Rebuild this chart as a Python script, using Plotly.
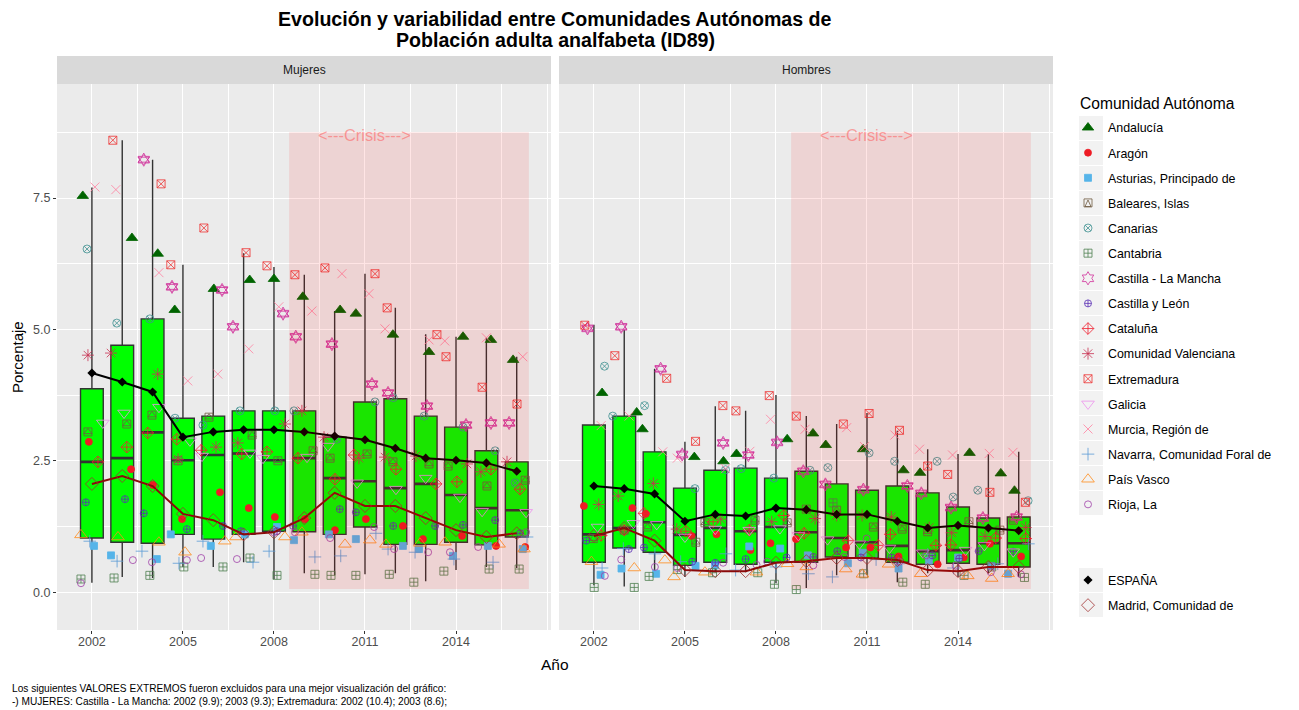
import plotly.graph_objects as go

YEARS = list(range(2002, 2017))
TICK_YEARS = [2002, 2005, 2008, 2011, 2014]
MINOR_YEARS = [2003.5, 2006.5, 2009.5, 2012.5, 2015.5, 2017]
TICK_PCT = [0, 2.5, 5, 7.5]
TICK_PCT_LABELS = ["0.0", "2.5", "5.0", "7.5"]
MINOR_PCT = [1.25, 3.75, 6.25, 8.75]

# Cajas (mujeres)
M_Q1 = [1.03, 0.95, 0.93, 1.10, 1.01, 1.10, 1.16, 1.15, 1.10, 1.24, 0.91, 0.91, 0.95, 0.90, 1.05]
M_MED = [2.48, 2.55, 3.04, 2.51, 2.61, 2.64, 2.51, 2.55, 2.17, 2.11, 1.98, 2.06, 1.85, 1.60, 1.56]
M_Q3 = [3.87, 4.70, 5.20, 3.31, 3.35, 3.45, 3.45, 3.45, 2.95, 3.62, 3.68, 3.35, 3.14, 2.69, 2.48]
M_LOW = [0.18, 0.29, 0.27, 0.48, 0.48, 0.57, 0.25, 0.36, 0.32, 0.34, 0.36, 0.21, 0.42, 0.48, 0.46]
M_HIGH = [7.70, 8.60, 8.23, 6.23, 5.75, 6.45, 6.19, 6.04, 5.35, 6.06, 5.41, 4.91, 4.86, 4.84, 4.48]

# Cajas (hombres)
H_Q1 = [0.57, 0.84, 0.76, 0.51, 0.57, 0.53, 0.57, 0.57, 0.67, 0.65, 0.57, 0.53, 0.55, 0.53, 0.48]
H_MED = [1.10, 1.22, 1.33, 1.09, 1.22, 1.16, 1.24, 1.14, 1.03, 0.95, 0.88, 0.78, 0.80, 0.93, 0.93]
H_Q3 = [3.18, 3.35, 2.67, 1.98, 2.32, 2.36, 2.17, 2.30, 2.06, 1.94, 2.02, 1.89, 1.62, 1.41, 1.43]
H_LOW = [0.13, 0.11, 0.29, 0.29, 0.38, 0.38, 0.17, 0.08, 0.32, 0.32, 0.19, 0.36, 0.29, 0.36, 0.29]
H_HIGH = [5.09, 4.99, 4.25, 2.86, 3.54, 3.45, 3.75, 3.35, 3.20, 3.41, 3.07, 2.72, 2.63, 2.63, 2.67]

# Lineas
ESP_M = [4.17, 4.00, 3.81, 2.95, 3.05, 3.09, 3.09, 3.05, 2.97, 2.90, 2.74, 2.55, 2.51, 2.46, 2.30]
ESP_H = [2.02, 1.97, 1.87, 1.35, 1.48, 1.45, 1.60, 1.57, 1.48, 1.48, 1.35, 1.22, 1.27, 1.22, 1.17]
MAD_M = [2.06, 2.21, 2.02, 1.49, 1.37, 1.10, 1.14, 1.41, 1.89, 1.64, 1.64, 1.41, 1.18, 1.05, 1.12]
MAD_H = [1.07, 1.22, 0.98, 0.42, 0.40, 0.40, 0.56, 0.59, 0.65, 0.65, 0.61, 0.42, 0.40, 0.48, 0.48]

# Puntos: valor y desplazamiento horizontal (jitter) por comunidad
AND_M = [7.54, 6.74, 6.44, 5.37, 5.77, 5.94, 5.96, 5.62, 5.37, 5.30, 4.90, 4.57, 4.86, 4.80, 4.42]
AND_MJ = [-.3, .32, .17, -.27, .02, .2, 0, -.05, .18, -.3, -.08, .11, .23, .15, -.12]
AND_H = [3.79, 3.42, 3.10, 2.57, 2.49, 2.63, 2.91, 3.02, 2.80, 2.72, 2.32, 2.27, 2.65, 2.26, 1.93]
AND_HJ = [.27, .41, -.4, .31, .27, -.3, .37, .22, -.36, -.13, .2, -.25, .38, .41, -.14]

ARA_M = [2.86, 2.34, 2.04, 1.39, 1.90, 1.60, 1.43, 1.39, 1.18, 1.39, 1.26, 1.01, 1.07, 0.88, 0.86]
ARA_MJ = [-.1, .29, .01, -.03, .22, .17, .03, .02, .01, .03, .25, -.09, .2, .32, .28]
ARA_H = [1.64, 1.60, 1.49, 1.07, 1.10, 0.80, 0.93, 1.01, 0.85, 0.85, 0.68, 0.53, 0.66, 0.92, 0.68]
ARA_HJ = [-.33, .27, -.29, .22, .04, .16, -.18, -.34, .31, .11, .04, .33, .19, .05, .08]

AST_M = [0.88, 0.70, 0.63, 1.10, 0.88, 1.10, 1.24, 0.99, 1.10, 1.01, 0.88, 0.82, 0.69, 0.88, 0.82]
AST_MJ = [.07, -.37, .14, -.4, -.08, .04, .1, -.34, -.19, -.3, .25, -.22, -.1, .05, .2]
AST_H = [0.33, 0.45, 0.35, 0.50, 0.51, 0.87, 0.83, 0.70, 0.55, 0.75, 0.45, 0.60, 0.66, 0.50, 0.35]
AST_HJ = [.22, -.09, .05, .35, -.01, .12, .14, .05, .37, -.14, .04, .04, 0, .1, -.35]

BAL_M = [3.05, 3.20, 3.37, 2.50, 3.33, 2.99, 2.50, 2.69, 2.55, 2.63, 2.48, 2.44, 2.40, 2.02, 2.13]
BAL_MJ = [-.13, .15, -.02, -.16, -.14, .28, .13, .29, -.15, .07, -.08, .11, -.26, .02, .28]
BAL_H = [1.02, 1.18, 1.24, 0.95, 1.32, 1.37, 1.32, 1.58, 1.56, 1.24, 1.20, 1.15, 1.34, 1.18, 1.37]
BAL_HJ = [-.02, 0, -.23, .36, -.34, .31, .37, 0, 0, .21, .16, 0, .36, .38, -.18]

CAN_M = [6.53, 5.12, 5.20, 3.31, 3.18, 3.45, 3.45, 3.45, 2.91, 3.62, 3.70, 3.35, 3.14, 2.69, 2.08]
CAN_MJ = [-.16, -.18, -.09, -.26, -.34, -.12, .03, -.34, .07, .33, -.07, -.05, .23, .29, -.05]
CAN_H = [4.30, 3.35, 3.55, 1.97, 2.33, 2.35, 2.17, 2.32, 2.37, 2.65, 2.49, 2.49, 1.81, 1.94, 1.74]
CAN_HJ = [.35, -.38, -.33, .33, .34, -.15, -.07, .12, -.29, .07, -.09, .31, -.16, -.35, .31]

CTB_M = [0.25, 0.27, 0.32, 0.48, 0.48, 0.65, 0.32, 0.34, 0.32, 0.32, 0.34, 0.19, 0.40, 0.44, 0.44]
CTB_MJ = [-.36, -.27, -.09, .03, .32, .21, .1, .35, -.12, -.3, -.2, -.39, -.4, .09, .08]
CTB_H = [0.09, 0.09, 0.30, 0.43, 0.37, 0.37, 0.15, 0.05, 1.70, 0.35, 0.19, 0.15, 0.32, 0.48, 0.28]
CTB_HJ = [.01, .33, -.18, -.25, -.09, .4, -.05, -.33, -.12, -.11, .18, -.08, .2, .11, .19]

CLM_M = [None, None, 8.23, 5.81, 5.75, 5.05, 5.30, 4.86, 4.72, 3.96, 3.79, 3.54, 3.18, 3.22, 3.22]
CLM_MJ = [0, 0, -.29, -.36, .29, -.35, .3, -.28, -.09, .23, -.24, .04, .33, .15, -.25]
CLM_H = [5.02, 5.05, 4.25, 2.62, 2.84, 2.61, 2.85, 2.30, 2.05, 1.95, 2.02, 1.88, 1.61, 1.41, 1.43]
CLM_HJ = [-.21, -.1, .2, -.09, .26, .09, .04, -.1, -.37, -.12, .33, -.21, -.23, -.18, -.07]

CYL_M = [1.71, 1.77, 1.50, 1.20, 1.26, 1.16, 1.16, 1.26, 1.58, 1.52, 1.26, 1.26, 1.28, 1.37, 1.12]
CYL_MJ = [-.2, .09, -.29, .13, .32, -.09, .1, -.37, .17, -.3, -.07, .31, .23, .29, .11]
CYL_H = [0.98, 0.82, 0.85, 0.58, 0.56, 0.63, 0.66, 0.67, 0.78, 0.66, 0.66, 0.70, 0.64, 0.78, 0.77]
CYL_HJ = [-.25, .15, -.35, .24, 0, 0, .35, .23, .02, -.2, -.19, .15, .04, -.32, -.18]

CAT_M = [2.48, 2.76, 3.03, 2.91, 2.70, 2.63, 2.67, 2.55, 2.15, 2.61, 2.34, 2.06, 2.10, 2.34, 1.96]
CAT_MJ = [.2, .15, -.16, -.2, -.4, -.06, -.23, -.21, .01, -.36, .02, .34, .03, .15, .11]
CAT_H = [1.08, 1.18, 1.50, 1.16, 1.34, 1.18, 1.46, 1.12, 0.98, 0.89, 1.10, 0.89, 0.90, 1.03, 1.02]
CAT_HJ = [.24, 0, -.35, .03, -.07, .12, .26, -.07, .38, .37, -.23, .27, -.24, .24, .23]

VAL_M = [4.51, 4.55, 4.15, 2.53, 2.76, 2.84, 3.20, 3.45, 2.95, 2.55, 2.57, 2.59, 2.44, 2.29, 2.48]
VAL_MJ = [-.13, -.37, .17, -.16, .09, -.19, .36, -.08, -.35, -.2, -.34, -.32, .36, -.18, -.32]
VAL_H = [1.67, 1.83, 2.07, 1.20, 1.39, 1.18, 1.34, 1.40, 1.46, 1.46, 1.43, 1.23, 1.13, 1.06, 1.23]
VAL_HJ = [.16, -.2, -.04, -.27, .18, .14, -.14, .29, 0, -.16, -.2, .05, -.21, -.11, .23]

EXT_M = [None, 8.60, 7.77, 6.23, 6.93, 6.46, 6.21, 6.04, 6.17, 6.06, 5.41, 4.90, 4.48, 3.90, 3.58]
EXT_MJ = [0, -.31, .28, -.4, -.31, .08, -.23, -.31, -.32, .33, -.27, .37, -.33, -.14, .01]
EXT_H = [5.08, 4.50, 4.07, 2.87, 3.55, 3.45, 3.74, 3.35, 3.20, 3.40, 3.08, 2.40, 2.24, 1.90, 1.71]
EXT_HJ = [-.3, -.31, .4, .35, .25, -.32, -.22, -.33, .22, .07, .07, 0, -.34, .05, .22]

GAL_M = [3.22, 3.41, 3.52, 2.88, 2.59, 2.65, 2.55, 2.57, 2.78, 2.08, 1.96, 2.17, 1.81, 1.54, 1.52]
GAL_MJ = [.36, .06, .21, .23, -.37, .21, -.36, .09, -.22, -.26, .02, 0, .13, -.14, .31]
GAL_H = [1.24, 1.31, 1.29, 1.05, 1.20, 1.18, 1.21, 1.08, 1.00, 0.92, 0.84, 0.75, 0.80, 0.89, 0.77]
GAL_HJ = [.12, .3, .07, 0, 0, .12, .13, -.26, -.3, -.25, -.26, -.16, .25, -.13, -.18]

MUR_M = [7.71, 7.66, 6.08, 4.02, 4.15, 4.63, 5.43, 5.35, 6.06, 5.68, 5.01, 4.80, 4.78, 4.84, 4.48]
MUR_MJ = [.1, -.21, .21, .16, .15, .17, .16, .25, .24, .13, -.34, .11, -.37, 0, .2]
MUR_H = [3.17, 3.35, 2.67, 2.55, 2.35, 2.68, 3.29, 3.10, 3.13, 2.77, 2.99, 2.72, 2.61, 2.64, 2.66]
MUR_HJ = [.24, .16, .27, -.25, .34, .14, -.18, -.04, .33, -.08, -.08, -.27, -.18, .03, -.19]

NAV_M = [0.97, 0.59, 0.78, 0.55, 0.97, 0.57, 0.78, 0.67, 0.69, 1.12, 0.82, 0.76, 0.63, 0.57, 1.05]
NAV_MJ = [-.07, -.17, -.35, -.13, -.34, .31, -.16, .35, .2, .36, -.24, -.35, -.07, .22, .34]
NAV_H = [0.46, 0.83, 0.73, 0.58, 0.73, 0.42, 0.48, 0.35, 0.29, 0.62, 0.54, 0.72, 0.46, 0.54, 0.92]
NAV_HJ = [.27, -.03, .01, -.14, .35, -.33, 0, .07, -.14, .3, .03, 0, -.15, .31, .32]

PVA_M = [1.09, 1.05, 0.95, 0.76, 0.97, 1.05, 1.05, 1.14, 0.91, 0.99, 0.91, 0.93, 0.95, 0.91, 0.82]
PVA_MJ = [-.36, -.14, .21, .07, .38, -.25, .36, -.08, .34, .16, -.31, -.19, -.36, .42, .24]
PVA_H = [0.58, 0.46, 0.61, 0.29, 0.38, 0.38, 0.54, 0.48, 0.44, 0.34, 0.53, 0.35, 0.31, 0.26, 0.35]
PVA_HJ = [-.08, .33, .34, -.36, -.34, .36, .38, 0, .3, -.15, -.29, -.23, .32, .11, -.35]

RIO_M = [0.17, 0.61, 0.57, 0.61, 0.65, 0.63, 1.14, 1.14, 1.03, 1.24, 0.82, 0.76, 0.76, 0.86, 1.14]
RIO_MJ = [-.36, .35, -.02, .13, -.4, -.22, 0, -.31, -.15, .3, -.04, .08, -.2, -.27, .31]
RIO_H = [0.31, 0.62, 0.48, 0.46, 0.56, 0.52, 0.58, 0.51, 0.67, 1.02, 0.58, 0.70, 0.50, 0.38, 0.34]
RIO_HJ = [.36, -.1, .01, -.25, .26, .36, -.29, .23, .26, -.01, .07, -.05, -.08, .08, .07]

# Comunidad, datos mujeres, datos hombres, simbolo, color, tamaño
REGIONS = [
    ("Andalucía", AND_M, AND_MJ, AND_H, AND_HJ, "triangle-up", "#006400", 10),
    ("Aragón", ARA_M, ARA_MJ, ARA_H, ARA_HJ, "circle", "#EE1C25", 7),
    ("Asturias, Principado de", AST_M, AST_MJ, AST_H, AST_HJ, "square", "#56B4E9", 7),
    ("Baleares, Islas", BAL_M, BAL_MJ, BAL_H, BAL_HJ, "square-open", "#6E5A40", 8),
    ("Canarias", CAN_M, CAN_MJ, CAN_H, CAN_HJ, "circle-x-open", "#3F9090", 8),
    ("Cantabria", CTB_M, CTB_MJ, CTB_H, CTB_HJ, "square-cross-open", "#4F8050", 8),
    ("Castilla - La Mancha", CLM_M, CLM_MJ, CLM_H, CLM_HJ, "hexagram-open", "#D0309A", 10),
    ("Castilla y León", CYL_M, CYL_MJ, CYL_H, CYL_HJ, "circle-cross-open", "#5B2FB5", 7),
    ("Cataluña", CAT_M, CAT_MJ, CAT_H, CAT_HJ, "diamond-cross-open", "#F02030", 9),
    ("Comunidad Valenciana", VAL_M, VAL_MJ, VAL_H, VAL_HJ, "asterisk-open", "#C83050", 10),
    ("Extremadura", EXT_M, EXT_MJ, EXT_H, EXT_HJ, "square-x-open", "#EE3333", 8),
    ("Galicia", GAL_M, GAL_MJ, GAL_H, GAL_HJ, "triangle-down-open", "#EE90EE", 11),
    ("Murcia, Región de", MUR_M, MUR_MJ, MUR_H, MUR_HJ, "x-thin-open", "#FF80A0", 9),
    ("Navarra, Comunidad Foral de", NAV_M, NAV_MJ, NAV_H, NAV_HJ, "cross-thin-open", "#5B9BD5", 9),
    ("País Vasco", PVA_M, PVA_MJ, PVA_H, PVA_HJ, "triangle-up-open", "#FF8C1A", 11),
    ("Rioja, La", RIO_M, RIO_MJ, RIO_H, RIO_HJ, "circle-open", "#A040A8", 7),
]

TITLE_1 = "Evolución y variabilidad entre Comunidades Autónomas de"
TITLE_2 = "Población adulta analfabeta (ID89)"
NOTE = ("Los siguientes VALORES EXTREMOS fueron excluidos para una mejor visualización del gráfico:<br>"
        "-) MUJERES: Castilla - La Mancha: 2002 (9.9); 2003 (9.3); Extremadura: 2002 (10.4); 2003 (8.6);")

# la pagina deja 8px de margen en el body
W, H = 1283, 702


def px(x):
    return (x - 8) / W


def py(y):
    return 1 - (y - 8) / H


FONT = "Liberation Sans, Arial, sans-serif"
fig = go.Figure()

for col, (q1, med, q3, low, high) in enumerate([(M_Q1, M_MED, M_Q3, M_LOW, M_HIGH),
                                                (H_Q1, H_MED, H_Q3, H_LOW, H_HIGH)]):
    ax = dict(xaxis="x" if col == 0 else "x2", yaxis="y" if col == 0 else "y2")
    fig.add_trace(go.Box(x=YEARS, q1=q1, median=med, q3=q3, lowerfence=low, upperfence=high,
                         width=0.75, whiskerwidth=0, fillcolor="#00FF00",
                         line=dict(color="#333333", width=1.4), showlegend=False, hoverinfo="skip", **ax))
    # mediana mas gruesa
    fig.add_trace(go.Box(x=YEARS, q1=med, median=med, q3=med, lowerfence=med, upperfence=med,
                         width=0.75, whiskerwidth=0, fillcolor="#333333",
                         line=dict(color="#333333", width=2.6), showlegend=False, hoverinfo="skip", **ax))

for name, vm, jm, vh, jh, symbol, color, size in REGIONS:
    is_clm = name.startswith("Castilla - La")
    for col, (vals, jit) in enumerate([(vm, jm), (vh, jh)]):
        xs = [yr + j for yr, j in zip(YEARS, jit)]
        ax = dict(xaxis="x" if col == 0 else "x2", yaxis="y" if col == 0 else "y2")
        fig.add_trace(go.Scatter(x=xs, y=vals, mode="markers", name=name, legendgroup=name,
                                 showlegend=col == 0, legend="legend",
                                 marker=dict(symbol=symbol, color=color, size=size,
                                             line=dict(color=color, width=0.8)), **ax))
        # Baleares lleva un triangulo dentro del cuadrado
        if name.startswith("Baleares"):
            fig.add_trace(go.Scatter(x=xs, y=vals, mode="markers", legendgroup=name, showlegend=False,
                                     hoverinfo="skip",
                                     marker=dict(symbol="triangle-up-open", color=color, size=7,
                                                 line=dict(color=color, width=0.8)), **ax))
        if is_clm:
            for tri in ["triangle-up-open", "triangle-down-open"]:
                fig.add_trace(go.Scatter(x=xs, y=vals, mode="markers", legendgroup=name, showlegend=False,
                                         hoverinfo="skip",
                                         marker=dict(symbol=tri, color=color, size=10,
                                                     line=dict(color=color, width=0.8)), **ax))

for col, (esp, mad) in enumerate([(ESP_M, MAD_M), (ESP_H, MAD_H)]):
    ax = dict(xaxis="x" if col == 0 else "x2", yaxis="y" if col == 0 else "y2")
    fig.add_trace(go.Scatter(x=YEARS, y=esp, mode="lines", line=dict(color="black", width=2),
                             legendgroup="ESPAÑA", showlegend=False, hoverinfo="skip", **ax))
    fig.add_trace(go.Scatter(x=YEARS, y=esp, mode="markers", name="ESPAÑA", legendgroup="ESPAÑA",
                             legend="legend2", showlegend=col == 0,
                             marker=dict(symbol="diamond", color="black", size=7), **ax))
    fig.add_trace(go.Scatter(x=YEARS, y=mad, mode="lines", line=dict(color="#8B0A0A", width=2),
                             legendgroup="Madrid", showlegend=False, hoverinfo="skip", **ax))
    fig.add_trace(go.Scatter(x=YEARS, y=mad, mode="markers", name="Madrid, Comunidad de", legendgroup="Madrid",
                             legend="legend2", showlegend=col == 0,
                             marker=dict(symbol="diamond-open", color="#A03030", size=10,
                                         line=dict(color="#A03030", width=0.8)), **ax))

# zona de crisis, por encima de las cajas
for xref, yref in [("x", "y"), ("x2", "y2")]:
    fig.add_shape(type="rect", x0=2008.5, x1=2016.4, y0=0.06, y1=8.75, xref=xref, yref=yref,
                  fillcolor="rgba(255,0,0,0.1)", line_width=0, layer="above")
    fig.add_annotation(x=2011, y=8.7, xref=xref, yref=yref, text="&lt;---Crisis---&gt;", showarrow=False,
                       font=dict(size=16.4, color="rgba(255,90,90,0.55)", family=FONT))


def label(x, y, text, size, color="black", **kw):
    opts = dict(xanchor="center", yanchor="middle")
    opts.update(kw)
    fig.add_annotation(x=px(x), y=py(y), xref="paper", yref="paper", text=text, showarrow=False,
                       font=dict(size=size, color=color, family=FONT, weight=opts.pop("weight", "normal")), **opts)


# cabeceras de panel
for x0, x1, strip in [(57, 551, "Mujeres"), (559, 1053, "Hombres")]:
    fig.add_shape(type="rect", xref="paper", yref="paper", x0=px(x0), x1=px(x1), y0=py(84), y1=py(56),
                  fillcolor="#D9D9D9", line_width=0, layer="below")
    label((x0 + x1) / 2, 70, strip, 12, "#1A1A1A")

# fondo gris de las claves de la leyenda
key_rows = [128 + 25 * i for i in range(16)] + [580, 605]
for row in key_rows:
    fig.add_shape(type="rect", xref="paper", yref="paper", x0=px(1079), x1=px(1103), y0=py(row + 12), y1=py(row - 12),
                  fillcolor="#F2F2F2", line_width=0, layer="below")

# triangulo de la clave de Baleares
fig.add_shape(type="path", xref="paper", yref="paper", layer="below",
              path="M %f %f L %f %f L %f %f Z" % (px(1085), py(206.5), px(1088), py(200), px(1091), py(206.5)),
              line=dict(color="#6E5A40", width=0.8))

label(555, 19.5, TITLE_1, 19.6, weight="bold", borderpad=0)
label(555, 40.5, TITLE_2, 19.6, weight="bold", borderpad=0)
label(555, 664, "Año", 15.5)
label(18, 357, "Porcentaje", 15, textangle=-90, borderpad=0)
label(1079, 104, "Comunidad Autónoma", 15.6, xanchor="left", xshift=-1)
label(10, 695, NOTE, 10.15, xanchor="left", align="left")

axis_x = dict(range=[2000.85, 2017.13], tickvals=TICK_YEARS, ticks="outside", ticklen=3, tickcolor="#333333",
              ticklabelstandoff=-3,
              tickfont=dict(size=12.5, color="#4D4D4D"), gridcolor="white", gridwidth=1.3, zeroline=False,
              minor=dict(tickvals=MINOR_YEARS, showgrid=True, gridcolor="white", gridwidth=0.7, ticks=""))
axis_y = dict(range=[-0.72, 9.67], tickvals=TICK_PCT, gridcolor="white", gridwidth=1.3, zeroline=False,
              minor=dict(tickvals=MINOR_PCT, showgrid=True, gridcolor="white", gridwidth=0.7, ticks=""))

fig.update_layout(
    width=W, height=H,
    margin=dict(l=0, r=0, t=0, b=0),
    paper_bgcolor="white", plot_bgcolor="#EBEBEB",
    font=dict(family=FONT),
    boxmode="overlay",
    xaxis=dict(axis_x, domain=[px(57), px(551)], anchor="y"),
    xaxis2=dict(axis_x, domain=[px(559), px(1053)], anchor="y2"),
    yaxis=dict(axis_y, domain=[py(630), py(84)], anchor="x", ticktext=TICK_PCT_LABELS, ticks="outside", ticklen=3,
               tickcolor="#333333", tickfont=dict(size=12.5, color="#4D4D4D")),
    yaxis2=dict(axis_y, domain=[py(630), py(84)], anchor="x2", showticklabels=False, ticks=""),
    legend=dict(x=px(1068), xanchor="left", y=py(113), yanchor="top", bgcolor="rgba(0,0,0,0)",
                font=dict(size=12.4, color="black"), tracegroupgap=6, itemclick=False, itemdoubleclick=False,
                traceorder="grouped"),
    legend2=dict(x=px(1068), xanchor="left", y=py(565.5), yanchor="top", bgcolor="rgba(0,0,0,0)",
                 font=dict(size=12.4, color="black"), tracegroupgap=6, itemclick=False, itemdoubleclick=False,
                 traceorder="grouped"),
)

fig.write_html("out.html")
